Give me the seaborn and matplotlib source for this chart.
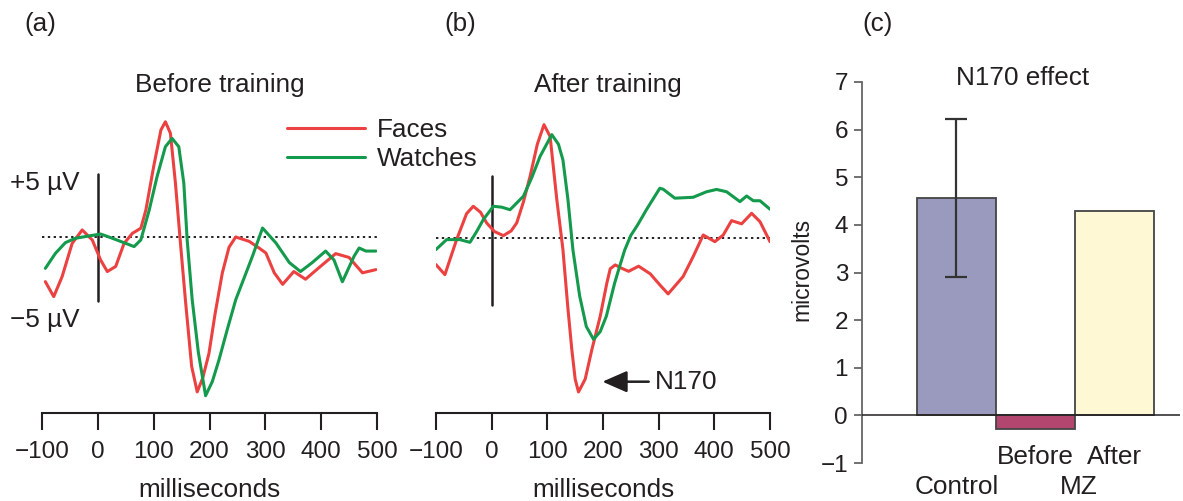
import matplotlib
matplotlib.use("Agg")
import matplotlib.pyplot as plt
from matplotlib.lines import Line2D
import seaborn as sns
import pandas as pd

# ERP traces: time (ms) and amplitude (microvolts)
before_faces_ms = [-94, -79, -64, -46, -28, -10, 5, 17, 32, 47, 62, 77, 86, 100, 113, 121, 130, 139, 148, 157,
                   168, 178, 188, 199, 210, 223, 235, 247, 271, 290, 301, 316, 331, 351, 372, 396, 426, 450, 474, 498]
before_faces_uv = [-3.49, -4.66, -3.1, -0.5, 0.55, -0.23, -1.8, -2.7, -2.3, -0.5, 0.29, 0.68, 2.1, 5.5, 8.36, 9.0, 8.1, 4.2, -0.5, -5.0,
                   -10.1, -12.1, -11.0, -9.1, -6.0, -2.8, -0.8, 0.0, -0.34, -0.9, -1.25, -2.8, -3.7, -2.7, -3.3, -2.4, -1.3, -1.6, -2.8, -2.55]
before_watches_ms = [-94, -76, -58, -40, -16, 5, 26, 50, 65, 77, 92, 106, 121, 133, 145, 154, 160, 169, 180, 193,
                     205, 217, 232, 247, 262, 277, 295, 319, 343, 363, 384, 408, 423, 438, 459, 468, 480, 498]
before_watches_uv = [-2.45, -1.28, -0.44, -0.1, 0.08, 0.23, -0.1, -0.5, -0.75, -0.23, 2.1, 4.7, 7.05, 7.7, 7.05, 4.2, -0.23, -4.9, -9.0, -12.4,
                     -11.3, -9.6, -7.2, -4.9, -3.2, -1.5, 0.7, -0.47, -2.0, -2.7, -2.0, -1.1, -1.8, -3.5, -1.5, -0.86, -1.1, -1.1]

after_faces_ms = [-100, -84, -63, -45, -33, -20, -9, 5, 21, 35, 45, 57, 69, 82, 94, 105, 117, 128, 137, 144,
                  150, 156, 168, 180, 195, 207, 213, 222, 233, 246, 264, 285, 303, 317, 344, 362, 380, 401, 416, 431,
                  449, 467, 482, 500]
after_faces_uv = [-2.08, -2.86, -0.13, 1.9, 2.47, 2.0, 1.17, 0.5, 0.18, 0.55, 1.17, 2.8, 4.8, 7.3, 8.83, 7.9, 3.0, -0.9, -5.5, -8.7,
                  -11.0, -12.0, -11.0, -8.7, -6.1, -3.5, -2.4, -2.1, -2.35, -2.6, -2.2, -2.8, -3.7, -4.36, -3.0, -1.45, 0.23, -0.29, 0.23, 1.35,
                  1.1, 1.92, 1.27, -0.29]
after_watches_ms = [-100, -81, -57, -39, -27, -15, 3, 18, 33, 57, 72, 87, 108, 120, 128, 137, 146, 158, 170, 183,
                    195, 206, 221, 230, 239, 250, 262, 278, 302, 308, 329, 362, 386, 404, 422, 446, 458, 470, 482, 500]
after_watches_uv = [-0.9, -0.13, -0.13, -0.34, 0.5, 1.43, 2.47, 2.4, 2.2, 3.25, 4.7, 6.36, 8.05, 7.3, 6.08, 3.0, -0.94, -4.5, -6.9, -7.9,
                    -7.3, -6.1, -3.5, -2.2, -0.94, 0.2, 1.0, 2.2, 3.87, 3.8, 3.1, 3.17, 3.6, 3.78, 3.6, 2.83, 3.27, 2.9, 2.9, 2.24]

time_ticks = [-100, 0, 100, 200, 300, 400, 500]

# N170 effect bars
groups = ["Control", "Before", "After"]
effect = [4.57, -0.29, 4.3]
control_err_low = 2.9
control_err_high = 6.22

RED = "#ec4141"
GREEN = "#149a4c"
INK = "#231f20"
bar_colors = ["#9a9abf", "#b3466f", "#fff8d4"]

sns.set_style("white")
plt.rcParams["font.family"] = ["Liberation Sans", "DejaVu Sans"]
plt.rcParams["text.color"] = INK
plt.rcParams["axes.labelcolor"] = INK
plt.rcParams["xtick.color"] = INK
plt.rcParams["ytick.color"] = INK
FS = 18.8      # titles, legend, labels
TFS = 17.5     # tick labels

W, H = 1183, 501
fig = plt.figure(figsize=(W / 100, H / 100), dpi=100)


def px_axes(x0, x1, ytop, ybot):
    return fig.add_axes([x0 / W, 1 - ybot / H, (x1 - x0) / W, (ybot - ytop) / H])


def erp_panel(ax, faces_ms, faces_uv, watch_ms, watch_uv, ylim, bar):
    df = pd.concat([
        pd.DataFrame({"ms": faces_ms, "uv": faces_uv, "stim": "Faces"}),
        pd.DataFrame({"ms": watch_ms, "uv": watch_uv, "stim": "Watches"}),
    ])
    sns.lineplot(data=df, x="ms", y="uv", hue="stim", palette={"Faces": RED, "Watches": GREEN},
                 estimator=None, sort=False, legend=False, linewidth=2.2, ax=ax)
    for ln in ax.lines:
        ln.set_solid_joinstyle("round")
    ax.axhline(0, color=INK, lw=1.4, ls=(0, (1.2, 1.8)), zorder=0)
    ax.plot([0, 0], bar, color=INK, lw=1.8, zorder=0)
    ax.set_xlim(-100, 500)
    ax.set_ylim(*ylim)
    ax.set_xticks(time_ticks)
    ax.set_xticklabels([str(t).replace("-", "\u2212") for t in time_ticks], fontsize=TFS)
    ax.set_yticks([])
    ax.set_ylabel("")
    ax.set_xlabel("milliseconds", fontsize=FS)
    ax.xaxis.set_label_coords(0.5, -0.246)
    ax.xaxis.label.set_va("center")
    for s in ["left", "top", "right"]:
        ax.spines[s].set_visible(False)
    ax.spines["bottom"].set_color(INK)
    ax.spines["bottom"].set_linewidth(1.5)
    ax.tick_params(axis="x", bottom=True, direction="out", length=12, width=1.5, pad=8, color=INK)
    ax.patch.set_alpha(0)


ax_a = px_axes(42, 377, 100, 413)
erp_panel(ax_a, before_faces_ms, before_faces_uv, before_watches_ms, before_watches_uv,
          (-13.75, 10.7), [-5.0, 4.9])
ax_a.text(-158, 4.2, "+5 \u00b5V", fontsize=FS, ha="left", va="center", clip_on=False)
ax_a.text(-158, -6.5, "\u22125 \u00b5V", fontsize=FS, ha="left", va="center", clip_on=False)

ax_b = px_axes(436, 770, 100, 413)
erp_panel(ax_b, after_faces_ms, after_faces_uv, after_watches_ms, after_watches_uv,
          (-13.64, 10.75), [-5.2, 4.8])
ax_b.annotate("N170", xy=(199, -11.2), xytext=(293, -11.2), fontsize=FS, va="center", ha="left",
              arrowprops=dict(arrowstyle="-|>,head_length=0.8,head_width=0.35", color=INK, lw=1.8,
                              shrinkA=2, shrinkB=0))

handles = [Line2D([], [], color=RED, lw=2.2), Line2D([], [], color=GREEN, lw=2.2)]
fig.legend(handles, ["Faces", "Watches"], loc="upper left", bbox_to_anchor=(287 / W, 1 - 118 / H),
           frameon=False, fontsize=FS, handlelength=3.0, handletextpad=0.45, labelspacing=0.2,
           borderpad=0, borderaxespad=0)

fig.text(220 / W, 1 - 85 / H, "Before training", fontsize=FS, ha="center", va="center")
fig.text(608 / W, 1 - 85 / H, "After training", fontsize=FS, ha="center", va="center")
for lbl, xp in [("(a)", 40), ("(b)", 460), ("(c)", 878)]:
    fig.text(xp / W, 1 - 24 / H, lbl, fontsize=FS, ha="center", va="center")

# panel (c): bar chart
ax_c = px_axes(862, 1180, 82, 463)
sns.barplot(x=groups, y=effect, hue=groups, palette=bar_colors, legend=False, width=1.0, saturation=1,
            edgecolor="#444444", linewidth=1.3, ax=ax_c, zorder=2)
ax_c.errorbar([0], [effect[0]], yerr=[[effect[0] - control_err_low], [control_err_high - effect[0]]],
              fmt="none", ecolor="#333333", elinewidth=1.6, capsize=8, capthick=1.6, zorder=3)
ax_c.axhline(0, color=INK, lw=1.1, zorder=4)
ax_c.set_xlim(-1.196, 2.83)
ax_c.set_ylim(-1, 7)
ax_c.set_yticks(range(-1, 8))
ax_c.set_yticklabels([str(v).replace("-", "\u2212") for v in range(-1, 8)], fontsize=TFS)
ax_c.set_xticks([])
ax_c.set_xlabel("")
ax_c.set_ylabel("microvolts", fontsize=16.5)
ax_c.yaxis.set_label_coords(-0.189, 0.507)
ax_c.yaxis.label.set_va("center")
for s in ["bottom", "top", "right"]:
    ax_c.spines[s].set_visible(False)
ax_c.spines["left"].set_color("#666666")
ax_c.spines["left"].set_linewidth(1.3)
ax_c.tick_params(axis="y", left=True, direction="out", length=6, width=1.3, pad=4, color="#666666")
ax_c.patch.set_alpha(0)

ax_c.text(0.84, 7.08, "N170 effect", fontsize=FS, ha="center", va="center", clip_on=False)
ax_c.text(1, -0.876, "Before", fontsize=FS, ha="center", va="center", clip_on=False)
ax_c.text(2, -0.876, "After", fontsize=FS, ha="center", va="center", clip_on=False)
ax_c.text(0, -1.506, "Control", fontsize=FS, ha="center", va="center", clip_on=False)
ax_c.text(1.55, -1.506, "MZ", fontsize=FS, ha="center", va="center", clip_on=False)

fig.savefig("out.png", dpi=100)
